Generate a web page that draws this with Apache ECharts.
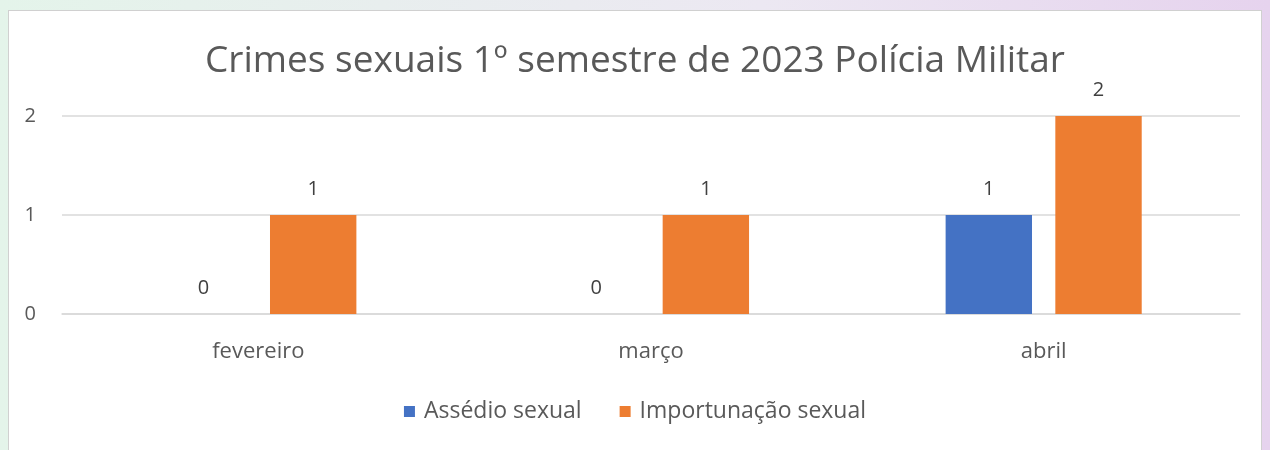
<!DOCTYPE html>
<html><head><meta charset="utf-8">
<script src="https://cdn.jsdelivr.net/npm/echarts@6/dist/echarts.min.js"></script>
<style>
html,body{margin:0;padding:0;width:1270px;height:450px;overflow:hidden;
background:linear-gradient(90deg,#e4f4ea 0%,#ece8f2 60%,#e6d3ee 100%);}
#box{position:absolute;left:8px;top:10px;width:1252px;height:446px;background:#fff;border:1px solid #d0d0d0;}
#chart{position:absolute;left:0;top:0;width:1270px;height:450px;}
</style></head>
<body><div id="box"></div><div id="chart"></div>
<script>
const categories = ['fevereiro', 'março', 'abril'];
const seriesNames = ['Assédio sexual', 'Importunação sexual'];
const assedio = [0, 0, 1];
const importunacao = [1, 1, 2];
const yTicks = [0, 1, 2];

const chart = echarts.init(document.getElementById('chart'));
const fontFam = '"Open Sans", "Noto Sans", sans-serif';
const labelStyle = {show:true, position:'top', distance:16, color:'#404040', fontSize:20, fontFamily:fontFam};
chart.setOption({
  backgroundColor:'transparent',
  animation:false,
  title:{text:'Crimes sexuais 1º semestre de 2023 Polícia Militar', left:'center', top:38,
    textStyle:{color:'#595959', fontSize:37, fontWeight:'normal', fontFamily:fontFam}},
  legend:{data:seriesNames, bottom:22, left:'center', itemWidth:11, itemHeight:11, itemGap:38,
    icon:'rect', textStyle:{color:'#595959', fontSize:23, fontFamily:fontFam, padding:[0,0,0,4]}},
  grid:{left:62, right:30, top:116, bottom:136},
  xAxis:{type:'category', data:categories, axisLine:{lineStyle:{color:'#d9d9d9', width:1.5}},
    axisTick:{show:false}, axisLabel:{color:'#595959', fontSize:22, margin:27, fontFamily:fontFam}},
  yAxis:{type:'value', min:0, max:yTicks[yTicks.length-1], interval:1,
    axisLabel:{color:'#595959', fontSize:20, margin:26, fontFamily:fontFam},
    splitLine:{lineStyle:{color:'#d9d9d9', width:1.5}}, axisLine:{show:false}},
  series:[
    {name:seriesNames[0], type:'bar', data:assedio, itemStyle:{color:'#4472c4'}, barWidth:'22%', barGap:'27%', label:labelStyle},
    {name:seriesNames[1], type:'bar', data:importunacao, itemStyle:{color:'#ed7d31'}, barWidth:'22%', label:labelStyle}
  ]
});
</script></body></html>
